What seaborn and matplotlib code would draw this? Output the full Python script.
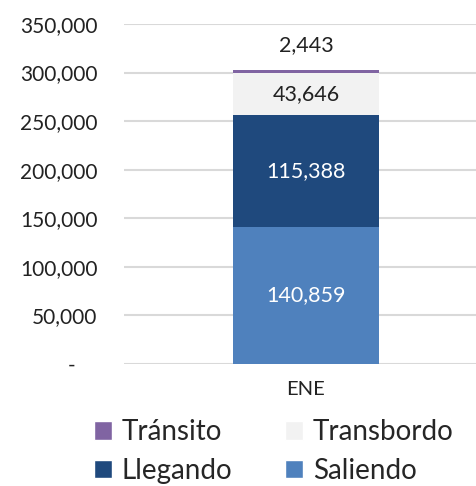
import matplotlib
matplotlib.use("Agg")
import matplotlib.pyplot as plt
from matplotlib.patches import Patch
from matplotlib.ticker import FuncFormatter
import seaborn as sns
import pandas as pd

# datos
mes = ["ENE"]
series = ["Saliendo", "Llegando", "Transbordo", "Tránsito"]
saliendo = [140859]
llegando = [115388]
transbordo = [43646]
transito = [2443]
colores = {"Saliendo": "#4F81BD", "Llegando": "#1F497D",
           "Transbordo": "#F2F2F2", "Tránsito": "#8064A2"}

sns.set_style("white")
plt.rcParams["font.family"] = ["Lato", "DejaVu Sans"]

df = pd.DataFrame({"Mes": mes, "Saliendo": saliendo, "Llegando": llegando,
                   "Transbordo": transbordo, "Tránsito": transito})
acum = df[series].cumsum(axis=1)

fig = plt.figure(figsize=(4.76, 4.86), dpi=100)
ax = fig.add_axes([124 / 476, 122 / 486, 352 / 476, 340 / 486])

# barras apiladas: se dibuja el total acumulado de arriba hacia abajo
for s in reversed(series):
    sns.barplot(x=df["Mes"], y=acum[s], color=colores[s], width=0.415,
                saturation=1, ax=ax, zorder=3, linewidth=0)

ax.set_xlim(-0.517, 0.483)
ax.set_ylim(0, 350000)
ax.set_yticks(range(0, 350001, 50000))
ax.yaxis.set_major_formatter(FuncFormatter(lambda v, p: "-    " if v == 0 else f"{int(v):,}"))
ax.grid(axis="y", color="#D9D9D9", linewidth=1.5, zorder=0)
ax.set_xlabel("")
ax.set_ylabel("")
sns.despine(ax=ax, left=True, bottom=True, right=True, top=True)
ax.tick_params(axis="y", length=0, pad=19, labelsize=15, labelcolor="#222222")
ax.tick_params(axis="x", length=0, pad=12, labelsize=14.5, labelcolor="#222222")

# etiquetas
base = 0
for s in series[:3]:
    v = df[s].iloc[0]
    col = "white" if s in ("Saliendo", "Llegando") else "#222222"
    ax.text(0, base + v / 2, f"{v:,}", ha="center", va="center",
            fontsize=15.5, color=col, zorder=5)
    base += v
ax.text(0, base + 28000, f"{df['Tránsito'].iloc[0]:,}", ha="center",
        va="center", fontsize=15.5, color="#222222", zorder=5)

orden = ["Tránsito", "Llegando", "Transbordo", "Saliendo"]
handles = [Patch(facecolor=colores[s], label=s) for s in orden]
fig.legend(handles=handles, ncol=2, loc="upper center",
           bbox_to_anchor=(0.575, 0.16), frameon=False, fontsize=20,
           handlelength=0.65, handleheight=0.65, handletextpad=0.35,
           columnspacing=1.9, labelspacing=0.45, borderaxespad=0)

fig.savefig("out.png", dpi=100)
